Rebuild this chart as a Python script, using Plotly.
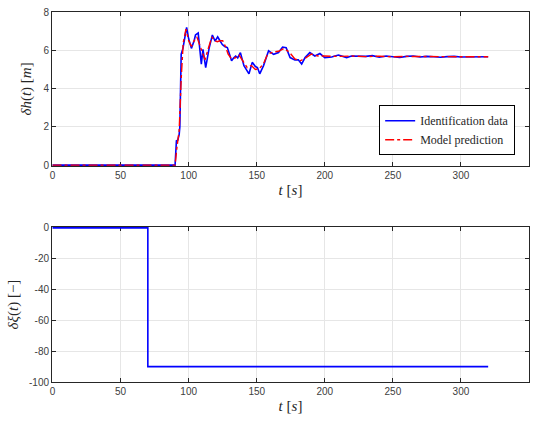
import plotly.graph_objects as go

# Identification data: height deviation (m) over time (s)
t_id = [0, 90, 91, 92, 93, 93.5, 94.5, 95.8, 97, 98.5, 100, 102, 104, 105, 107, 108,
        109.3, 110.5, 112.5, 115, 117.4, 119.4, 121.3, 123, 124.7, 126.5, 128.4, 130,
        131.5, 133, 134.5, 136, 138, 140.6, 142.5, 144.3, 146.7, 149, 150.5, 152.2,
        155, 158.7, 162.4, 166, 169, 171.6, 174.5, 178, 180.5, 183, 185.5, 189, 192.7,
        196.4, 200, 205, 210, 216, 219.6, 224.5, 230, 235, 240, 245, 250, 255, 260,
        265, 270, 275, 280, 285, 290, 295, 300, 305, 310, 315, 320]
h_id = [0, 0, 1.27, 1.3, 1.6, 2.0, 5.8, 6.1, 6.6, 7.2, 6.6, 6.1, 6.5, 6.8, 6.9, 6.3,
        5.28, 6.05, 5.1, 6.1, 6.8, 6.48, 6.7, 6.5, 6.3, 6.2, 6.14, 5.8,
        5.45, 5.6, 5.7, 5.6, 5.88, 5.2, 5.0, 4.77, 5.37, 5.15, 5.1, 4.77,
        5.2, 5.97, 5.79, 5.88, 6.17, 6.14, 5.62, 5.5, 5.5, 5.28, 5.62, 5.88, 5.7,
        5.83, 5.62, 5.65, 5.75, 5.62, 5.7, 5.7, 5.68, 5.72, 5.64, 5.7, 5.66, 5.62, 5.68,
        5.7, 5.65, 5.68, 5.66, 5.64, 5.67, 5.68, 5.65, 5.66, 5.67, 5.66, 5.66]

# Model prediction
t_pred = [0, 90, 91.5, 93, 94.5, 96, 98, 100, 102, 104, 106, 108, 110, 112, 114, 117,
          119, 121, 123, 125, 127, 129, 131, 134, 137, 140, 143, 146, 149, 152, 155,
          158, 162, 166, 170, 174, 178, 182, 186, 190, 195, 200, 210, 220, 230, 240,
          250, 260, 270, 280, 290, 300, 310, 320]
h_pred = [0, 0, 1.0, 1.8, 4.5, 6.4, 7.1, 6.5, 6.2, 6.5, 6.7, 6.3, 5.8, 5.5, 6.0, 6.7,
          6.5, 6.45, 6.5, 6.5, 6.2, 5.8, 5.6, 5.6, 5.75, 5.4, 5.1, 5.2, 5.0, 5.05, 5.3,
          5.8, 5.9, 5.95, 6.1, 5.9, 5.55, 5.45, 5.6, 5.8, 5.7, 5.7, 5.68, 5.7, 5.67, 5.69,
          5.66, 5.68, 5.67, 5.68, 5.66, 5.67, 5.66, 5.66]

# Input: step of the control deviation
t_in = [0, 70, 70, 320]
xi_in = [0, 0, -90, -90]

x_ticks = [0, 50, 100, 150, 200, 250, 300, 350]
x_ticktext = ["0", "50", "100", "150", "200", "250", "300", "350"]
h_ticks = [0, 2, 4, 6, 8]
h_ticktext = ["0", "2", "4", "6", "8"]
xi_ticks = [-100, -80, -60, -40, -20, 0]
xi_ticktext = ["-100", "-80", "-60", "-40", "-20", "0"]

AX = "#262626"
GRID = "#e6e6e6"
TICKFONT = dict(family="Liberation Sans, Arial, sans-serif", size=10, color="#404040")
TITLEFONT = dict(family="Liberation Serif, Times New Roman, serif", size=15, color="#262626")

fig = go.Figure()
fig.add_trace(go.Scatter(x=t_id, y=h_id, mode="lines", name="Identification data",
                         line=dict(color="#0000ff", width=1.6), xaxis="x", yaxis="y"))
fig.add_trace(go.Scatter(x=t_pred, y=h_pred, mode="lines", name="Model prediction",
                         line=dict(color="#ff0000", width=1.4, dash="dashdot"),
                         xaxis="x", yaxis="y"))
fig.add_trace(go.Scatter(x=t_in, y=xi_in, mode="lines", showlegend=False,
                         line=dict(color="#0000ff", width=1.6), xaxis="x2", yaxis="y2"))

axis_common = dict(showline=True, linecolor=AX, linewidth=1, mirror="ticks",
                   ticks="inside", ticklen=4, tickcolor=AX, showgrid=True,
                   gridcolor=GRID, gridwidth=1, zeroline=False, tickfont=TICKFONT,
                   layer="below traces")

# ranges padded by well under a pixel so lines lying on the frame stay visible
fig.update_layout(
    width=536, height=423,
    margin=dict(l=52, r=6, t=7, b=41),
    plot_bgcolor="white", paper_bgcolor="white",
    xaxis=dict(axis_common, domain=[0, 1], range=[-0.4, 350], tickvals=x_ticks,
               ticktext=x_ticktext, anchor="y",
               title=dict(text="<i>t</i> [<i>s</i>]", font=TITLEFONT, standoff=4)),
    yaxis=dict(axis_common, domain=[0.584, 1], range=[-0.04, 8], tickvals=h_ticks,
               ticktext=h_ticktext, anchor="x",
               title=dict(text="<i>δh</i>(<i>t</i>) [<i>m</i>]", font=TITLEFONT, standoff=8)),
    xaxis2=dict(axis_common, domain=[0, 1], range=[-0.4, 350], tickvals=x_ticks,
                ticktext=x_ticktext, anchor="y2",
                title=dict(text="<i>t</i> [<i>s</i>]", font=TITLEFONT, standoff=4)),
    yaxis2=dict(axis_common, domain=[0, 0.4187], range=[-100, 0.5], tickvals=xi_ticks,
                ticktext=xi_ticktext, anchor="x2",
                title=dict(text="<i>δξ</i>(<i>t</i>) [−]", font=TITLEFONT, standoff=6)),
    legend=dict(x=0.971, y=0.613, xanchor="right", yanchor="bottom",
                bgcolor="white", bordercolor="#000000", borderwidth=1,
                font=dict(family="Liberation Serif, Times New Roman, serif", size=12,
                          color="#262626"),
                tracegroupgap=0, itemwidth=30),
    showlegend=True,
)

fig.write_html("out.html")
